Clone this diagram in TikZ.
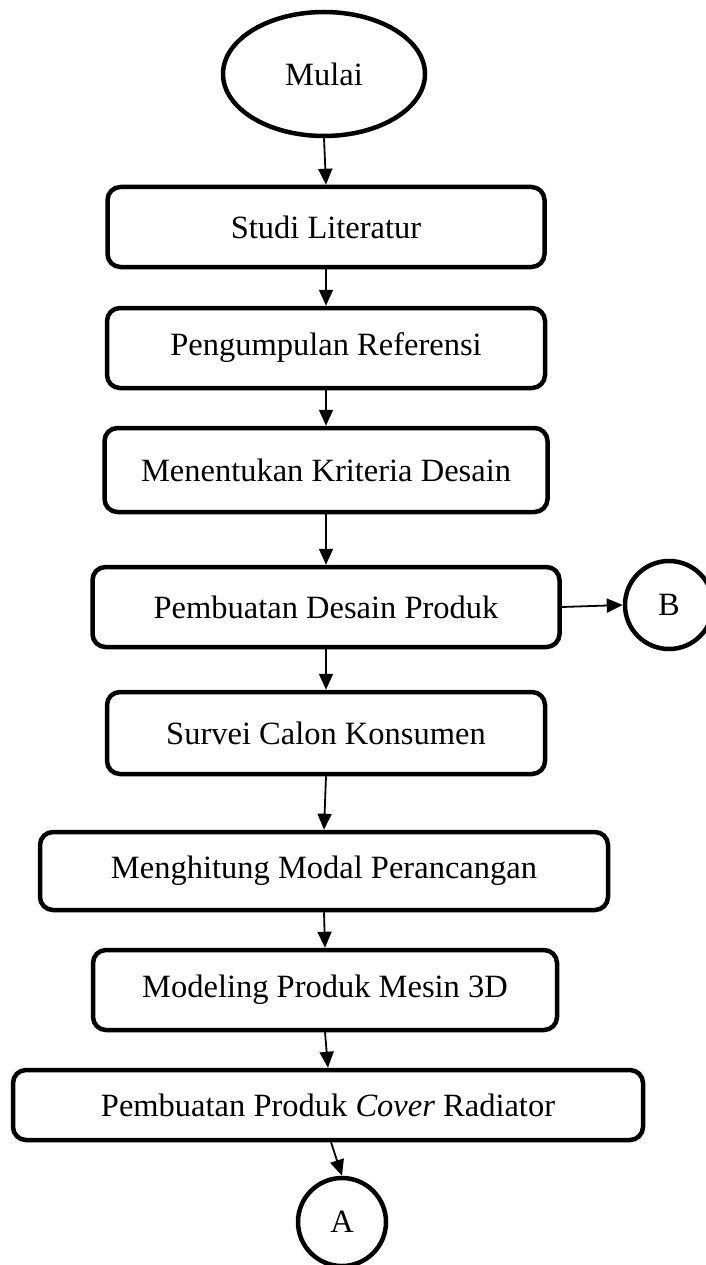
\documentclass[tikz,border=0pt]{standalone}
\usepackage{fontspec}
\setmainfont{Liberation Serif}
\usetikzlibrary{shapes.geometric,arrows.meta}
\begin{document}
\begin{tikzpicture}[x=1pt,y=-1pt,
  every node/.style={font=\fontsize{32.5}{38}\selectfont},
  procbox/.style={draw,line width=4.5pt,rounded corners=13pt,inner sep=0pt,anchor=center},
  conn/.style={draw,line width=4.5pt,circle,inner sep=0pt,minimum size=88pt},
  flow/.style={line width=1.8pt,-{Triangle[length=16pt,width=14pt]}}]
\useasboundingbox (0,0) rectangle (705,1265);
\node[draw,line width=4.5pt,ellipse,inner sep=0pt,minimum width=202pt,minimum height=124pt] (mulai) at (324,74) {Mulai};
\node[procbox,minimum width=437pt,minimum height=80pt] (s1) at (326,227) {Studi Literatur};
\node[procbox,minimum width=438pt,minimum height=80pt] (s2) at (326,348) {Pengumpulan Referensi};
\node[procbox,minimum width=443pt,minimum height=84pt] (s3) at (326,470) {Menentukan Kriteria Desain};
\node[procbox,minimum width=467pt,minimum height=80pt] (s4) at (326,607) {Pembuatan Desain Produk};
\node[conn] (B) at (669,605) {B};
\node[procbox,minimum width=438pt,minimum height=82pt] (s5) at (326,733) {Survei Calon Konsumen};
\node[procbox,minimum width=568pt,minimum height=78pt] (s6) at (324,871) {Menghitung Modal Perancangan};
\node[procbox,minimum width=464pt,minimum height=80pt] (s7) at (325,990) {Modeling Produk Mesin 3D};
\node[procbox,minimum width=630pt,minimum height=70pt] (s8) at (328,1105) {Pembuatan Produk \textit{Cover} Radiator};
\node[conn] (A) at (342,1222) {A};
\draw[flow] (mulai.south) -- (s1.north);
\draw[flow] (s1.south) -- (s2.north);
\draw[flow] (s2.south) -- (s3.north);
\draw[flow] (s3.south) -- (s4.north);
\draw[flow] (s4.east) -- (B.west);
\draw[flow] (s4.south) -- (s5.north);
\draw[flow] (s5.south) -- (s6.north);
\draw[flow] (s6.south) -- (s7.north);
\draw[flow] (s7.south) -- (s8.north);
\draw[flow] ([xshift=3pt]s8.south) -- (A.north);
\end{tikzpicture}
\end{document}
